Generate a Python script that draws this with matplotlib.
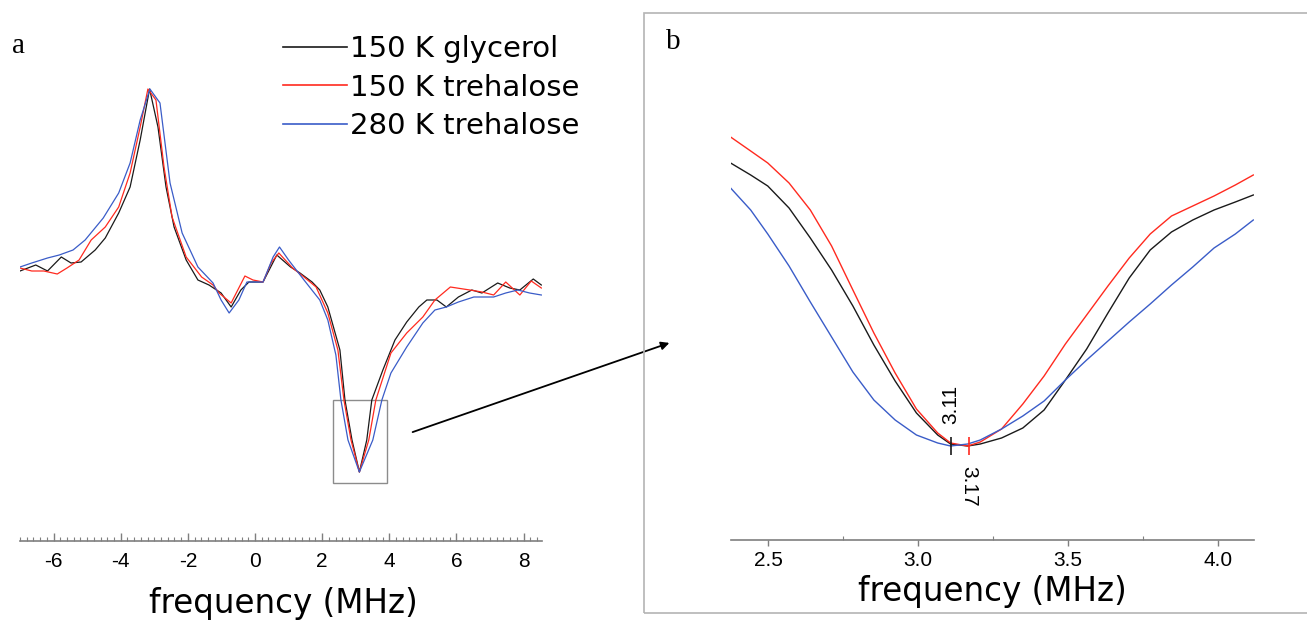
import numpy as np
import matplotlib
matplotlib.use('Agg')
import matplotlib.pyplot as plt
from matplotlib.patches import Rectangle, FancyArrowPatch
from matplotlib.ticker import MultipleLocator, FormatStrFormatter

plt.rcParams['axes.unicode_minus'] = False

# ---- panel a: full spectra (frequency in MHz, amplitude in arb. units) ----
glyc150_x = [-7.00, -6.53, -6.18, -5.77, -5.48, -5.18, -4.76, -4.46, -4.06, -3.72, -3.42, -3.14,
             -2.89, -2.65, -2.41, -2.05, -1.70, -1.37, -1.01, -0.71, -0.42, -0.18, 0.24, 0.65,
             1.06, 1.34, 1.70, 1.93, 2.17, 2.53, 2.68, 2.89, 3.11, 3.33, 3.48, 3.81, 4.17, 4.52,
             4.88, 5.12, 5.42, 5.70, 6.06, 6.46, 6.76, 7.23, 7.59, 7.89, 8.29, 8.53]
glyc150_y = [-0.01, 0.05, -0.01, 0.13, 0.07, 0.08, 0.20, 0.32, 0.57, 0.83, 1.30, 1.81,
             1.43, 0.83, 0.43, 0.10, -0.10, -0.15, -0.23, -0.37, -0.20, -0.12, -0.12, 0.15,
             0.03, -0.03, -0.12, -0.20, -0.37, -0.80, -1.30, -1.70, -2.02, -1.70, -1.30, -1.00, -0.70, -0.52,
             -0.37, -0.30, -0.30, -0.37, -0.27, -0.20, -0.23, -0.13, -0.18, -0.20, -0.09, -0.15]

treh150_x = [-7.00, -6.65, -6.29, -5.89, -5.60, -5.24, -4.88, -4.46, -4.06, -3.72, -3.42, -3.19,
             -2.95, -2.71, -2.47, -2.05, -1.59, -1.25, -1.07, -0.71, -0.30, -0.06, 0.24, 0.48,
             0.71, 1.12, 1.46, 1.82, 2.17, 2.47, 2.65, 2.86, 3.11, 3.39, 3.60, 4.05, 4.52, 5.00,
             5.36, 5.82, 6.40, 6.76, 7.11, 7.47, 7.89, 8.23, 8.53]
treh150_y = [0.02, -0.01, -0.01, -0.04, 0.02, 0.10, 0.30, 0.43, 0.63, 0.97, 1.43, 1.81,
             1.70, 1.03, 0.53, 0.13, -0.07, -0.15, -0.23, -0.33, -0.06, -0.10, -0.12, 0.07,
             0.17, 0.02, -0.07, -0.17, -0.43, -0.80, -1.30, -1.70, -2.02, -1.70, -1.30, -0.83, -0.63, -0.47,
             -0.30, -0.17, -0.20, -0.22, -0.25, -0.12, -0.25, -0.11, -0.18]

treh280_x = [-7.00, -6.65, -6.18, -5.83, -5.42, -5.06, -4.52, -4.06, -3.72, -3.42, -3.13, -2.83,
             -2.53, -2.17, -1.70, -1.25, -1.01, -0.77, -0.48, -0.24, 0.24, 0.54, 0.73, 1.00,
             1.46, 1.93, 2.17, 2.41, 2.56, 2.77, 3.11, 3.51, 3.78, 4.05, 4.52, 5.00, 5.36, 5.70,
             6.06, 6.52, 7.11, 7.47, 7.83, 8.18, 8.53]
treh280_y = [0.03, 0.07, 0.12, 0.15, 0.20, 0.30, 0.52, 0.77, 1.07, 1.50, 1.81, 1.67,
             0.87, 0.37, 0.03, -0.13, -0.30, -0.43, -0.30, -0.12, -0.12, 0.13, 0.23, 0.10,
             -0.10, -0.30, -0.50, -0.85, -1.30, -1.70, -2.02, -1.70, -1.30, -1.03, -0.77, -0.53, -0.40, -0.37,
             -0.32, -0.27, -0.27, -0.23, -0.20, -0.23, -0.25]

# ---- panel b: zoom on the low-field minimum ----
zoom_x = [2.375, 2.442, 2.499, 2.570, 2.641, 2.712, 2.783, 2.853, 2.924, 2.995, 3.066, 3.109, 3.166,
          3.208, 3.279, 3.350, 3.421, 3.492, 3.563, 3.634, 3.705, 3.775, 3.846, 3.917, 3.988, 4.059, 4.119]
zoom_glyc150 = [2.83, 2.71, 2.60, 2.38, 2.08, 1.76, 1.40, 1.01, 0.65, 0.33, 0.11, 0.02, 0.00,
                0.02, 0.08, 0.18, 0.36, 0.66, 0.97, 1.33, 1.68, 1.96, 2.14, 2.26, 2.36, 2.44, 2.51]
zoom_treh150 = [3.09, 2.95, 2.83, 2.63, 2.36, 2.00, 1.56, 1.13, 0.73, 0.37, 0.13, 0.03, 0.00,
                0.04, 0.17, 0.42, 0.70, 1.02, 1.31, 1.60, 1.88, 2.12, 2.30, 2.40, 2.50, 2.61, 2.71]
zoom_treh280 = [2.58, 2.36, 2.12, 1.80, 1.44, 1.09, 0.74, 0.46, 0.26, 0.11, 0.03, 0.00, 0.02,
                0.06, 0.17, 0.30, 0.45, 0.66, 0.86, 1.05, 1.24, 1.42, 1.61, 1.79, 1.98, 2.12, 2.26]

labels = ['150 K glycerol', '150 K trehalose', '280 K trehalose']
colors = ['#1a1a1a', '#ff2a1f', '#3a5cc8']
minima = [3.11, 3.17]

W, H = 1307, 622
fig = plt.figure(figsize=(W / 100, H / 100), dpi=100)


def frac(px, py):
    return px / W, 1 - py / H


def style_axis(ax, fs):
    for s in ['left', 'right', 'top']:
        ax.spines[s].set_visible(False)
    ax.spines['bottom'].set_color('#7f7f7f')
    ax.spines['bottom'].set_linewidth(1.2)
    ax.set_yticks([])
    ax.tick_params(axis='x', colors='#7f7f7f', labelcolor='black', labelsize=fs,
                   labelfontfamily='Liberation Sans')


# left panel
ax1 = fig.add_axes([20 / W, (H - 541) / H, 522 / W, 481 / H])
for x, y, c, lab in zip([glyc150_x, treh150_x, treh280_x], [glyc150_y, treh150_y, treh280_y], colors, labels):
    ax1.plot(x, y, color=c, lw=0.9, label=lab)
ax1.set_xlim(-7.0, 8.55)
ax1.set_ylim(-2.71, 2.10)
ax1.xaxis.set_major_locator(MultipleLocator(2))
ax1.xaxis.set_minor_locator(MultipleLocator(0.2))
ax1.tick_params(axis='x', which='major', direction='in', length=6, width=1, pad=8)
ax1.tick_params(axis='x', which='minor', direction='in', length=3, width=0.8, colors='#7f7f7f')
style_axis(ax1, 15)
ax1.add_patch(Rectangle((2.32, -2.13), 1.61, 0.83, fill=False, ec='#8c8c8c', lw=1))

leg = ax1.legend(loc='upper left', bbox_to_anchor=frac(283, 35), bbox_transform=fig.transFigure,
                 frameon=False, fontsize=21, handlelength=2.2, handletextpad=0.1,
                 labelspacing=0.36, borderpad=0, borderaxespad=0)
for line in leg.get_lines():
    line.set_linewidth(1.2)

# right panel
ax2 = fig.add_axes([730.6 / W, (H - 539.5) / H, 523 / W, 479.5 / H])
for y, c in zip([zoom_glyc150, zoom_treh150, zoom_treh280], colors):
    ax2.plot(zoom_x, y, color=c, lw=1.0)
ax2.set_xlim(2.375, 4.12)
ax2.set_ylim(-0.935, 3.86)
ax2.xaxis.set_major_locator(MultipleLocator(0.5))
ax2.xaxis.set_minor_locator(MultipleLocator(0.25))
ax2.xaxis.set_major_formatter(FormatStrFormatter('%.1f'))
ax2.tick_params(axis='x', which='major', direction='out', length=4, width=1, pad=4)
ax2.tick_params(axis='x', which='minor', direction='in', length=3, width=0.8, colors='#7f7f7f')
style_axis(ax2, 15)

# minimum markers
ax2.vlines(minima[0], -0.09, 0.09, color=colors[0], lw=1.2)
ax2.vlines(minima[1], -0.09, 0.09, color=colors[1], lw=1.2)
ax2.text(minima[0], 0.22, f'{minima[0]:.2f}', rotation=90, ha='center', va='bottom',
         fontsize=15, family='Liberation Sans')
ax2.text(minima[1], -0.20, f'{minima[1]:.2f}', rotation=270, ha='center', va='top',
         fontsize=15, family='Liberation Sans')

# frame around panel b
fig.patches.append(Rectangle(frac(644, 613), 700 / W, 600 / H, transform=fig.transFigure,
                             fill=False, ec='#b4b4b4', lw=1.2))

# arrow from the boxed region to panel b
fig.add_artist(FancyArrowPatch(frac(410, 433), frac(672, 342), transform=fig.transFigure,
                               arrowstyle='-|>', mutation_scale=12, color='black', lw=1.3))

# panel letters and axis titles
fig.text(*frac(12, 53), 'a', fontsize=21, family='Liberation Serif', va='baseline')
fig.text(*frac(666, 49), 'b', fontsize=21, family='Liberation Serif', va='baseline')
fig.text(*frac(283, 603), 'frequency (MHz)', fontsize=23.5, ha='center', va='center')
fig.text(*frac(992, 592), 'frequency (MHz)', fontsize=23.5, ha='center', va='center')

fig.savefig('out.png', dpi=100)
